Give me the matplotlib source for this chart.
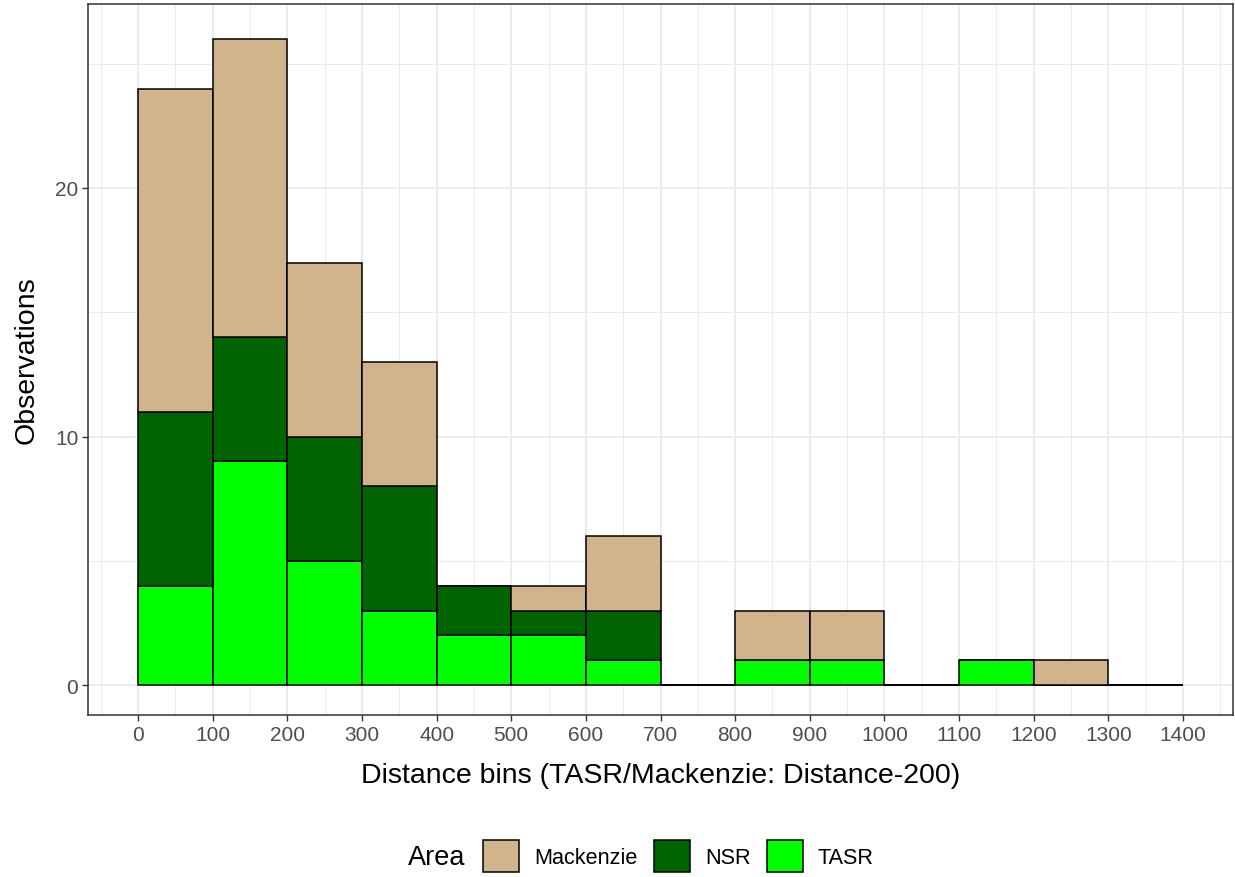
import matplotlib
matplotlib.use("Agg")
import matplotlib.pyplot as plt
from matplotlib.patches import Patch
from matplotlib.ticker import MultipleLocator

plt.rcParams['font.family'] = ['Liberation Sans', 'DejaVu Sans']

bin_edges = [0, 100, 200, 300, 400, 500, 600, 700, 800, 900, 1000, 1100, 1200, 1300]
bin_width = 100
tasr = [4, 9, 5, 3, 2, 2, 1, 0, 1, 1, 0, 1, 0, 0]
nsr = [7, 5, 5, 5, 2, 1, 2, 0, 0, 0, 0, 0, 0, 0]
mackenzie = [13, 12, 7, 5, 0, 1, 3, 0, 2, 2, 0, 0, 1, 0]
x_ticks = list(range(0, 1401, 100))
y_ticks = [0, 10, 20]

c_mack = '#D2B48C'
c_nsr = '#006400'
c_tasr = '#00FF00'

fig = plt.figure(figsize=(12.35, 8.78), dpi=100)
ax = fig.add_axes([88/1235, 1-716/878, (1233-88)/1235, (716-5)/878])

bot2 = [a + b for a, b in zip(tasr, nsr)]
ax.bar(bin_edges, tasr, width=bin_width, align='edge', color=c_tasr,
       edgecolor='black', linewidth=1.1, zorder=3)
ax.bar(bin_edges, nsr, width=bin_width, align='edge', bottom=tasr, color=c_nsr,
       edgecolor='black', linewidth=1.1, zorder=3)
ax.bar(bin_edges, mackenzie, width=bin_width, align='edge', bottom=bot2, color=c_mack,
       edgecolor='black', linewidth=1.1, zorder=3)

ax.set_xlim(-67, 1467)
ax.set_ylim(-1.2, 27.4)
ax.set_xticks(x_ticks)
ax.set_yticks(y_ticks)
ax.xaxis.set_minor_locator(MultipleLocator(50))
ax.yaxis.set_minor_locator(MultipleLocator(5))
ax.grid(which='major', color='#EBEBEB', linewidth=1.3, zorder=0)
ax.grid(which='minor', color='#EBEBEB', linewidth=0.7, zorder=0)
ax.set_axisbelow(True)
ax.tick_params(which='minor', length=0)
ax.tick_params(which='major', length=4, width=1.0, color='#333333',
               labelsize=15, labelcolor='#4D4D4D', pad=3)
for s in ax.spines.values():
    s.set_color('#333333')
    s.set_linewidth(1.1)

ax.set_xlabel('Distance bins (TASR/Mackenzie: Distance-200)', fontsize=20.5, color='black')
ax.set_ylabel('Observations', fontsize=20.5, color='black')
ax.xaxis.set_label_coords(0.5, (716-776)/711)
ax.xaxis.label.set_va('center')
ax.yaxis.set_label_coords((27-88)/1145, 0.5)
ax.yaxis.label.set_va('center')

handles = [Patch(facecolor=c_mack, edgecolor='black', linewidth=1.1, label='Mackenzie'),
           Patch(facecolor=c_nsr, edgecolor='black', linewidth=1.1, label='NSR'),
           Patch(facecolor=c_tasr, edgecolor='black', linewidth=1.1, label='TASR')]
fig.legend(handles=handles, loc='center left', bbox_to_anchor=(483/1235, 1-857/878),
           ncol=3, frameon=False, fontsize=15.6, handlelength=1.66, handleheight=1.85,
           handletextpad=0.7, columnspacing=0.75, borderpad=0, borderaxespad=0)
fig.text(408/1235, 1-858/878, 'Area', fontsize=19.5, ha='left', va='center')

fig.savefig('out.png', dpi=100)
